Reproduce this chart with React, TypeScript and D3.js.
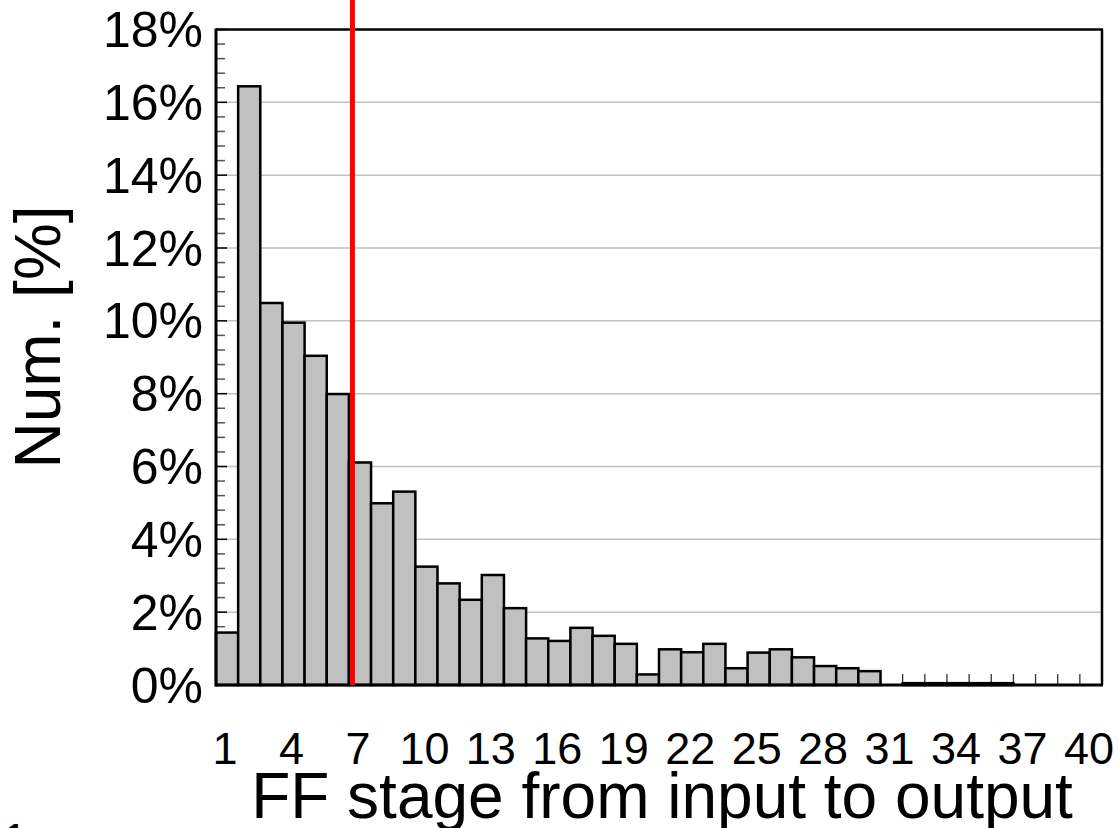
import React from "react";
import * as d3 from "d3";

const stages: number[] = [
  1, 2, 3, 4, 5, 6, 7, 8, 9, 10, 11, 12, 13, 14, 15, 16, 17, 18, 19, 20,
  21, 22, 23, 24, 25, 26, 27, 28, 29, 30, 31, 32, 33, 34, 35, 36, 37, 38, 39, 40,
];
const percents: number[] = [
  1.44, 16.44, 10.49, 9.95, 9.04, 7.99, 6.11, 4.99, 5.31, 3.25,
  2.79, 2.34, 3.02, 2.11, 1.28, 1.21, 1.57, 1.35, 1.13, 0.29,
  0.98, 0.9, 1.13, 0.46, 0.89, 0.98, 0.76, 0.52, 0.46, 0.38,
  0, 0.05, 0.05, 0.05, 0.05, 0.05, 0, 0, 0, 0,
];
const xTickLabels: number[] = [1, 4, 7, 10, 13, 16, 19, 22, 25, 28, 31, 34, 37, 40];
const yMajorTicks: number[] = [0, 2, 4, 6, 8, 10, 12, 14, 16, 18];
const yMinorTicks: number[] = [
  0.4, 0.8, 1.2, 1.6, 2.4, 2.8, 3.2, 3.6, 4.4, 4.8, 5.2, 5.6, 6.4, 6.8, 7.2, 7.6,
  8.4, 8.8, 9.2, 9.6, 10.4, 10.8, 11.2, 11.6, 12.4, 12.8, 13.2, 13.6, 14.4, 14.8,
  15.2, 15.6, 16.4, 16.8, 17.2, 17.6,
];
const redLineStage = 6.66;
const xTitle = "FF stage from input to output";
const yTitle = "Num. [%]";

const W = 1119;
const H = 828;
const L = 216;
const R = 1102;
const T = 29.5;
const B = 685;
const FONT = "'Liberation Sans', Arial, sans-serif";

export default function App() {
  const x = d3
    .scaleBand<number>()
    .domain(stages)
    .range([L, R])
    .padding(0);
  const xc = d3.scaleLinear().domain([0.5, 40.5]).range([L, R]);
  const y = d3.scaleLinear().domain([0, 18]).range([B, T]);
  const bw = x.bandwidth();

  return (
    <div style={{ position: "absolute", left: 0, top: 0 }}>
      <svg width={W} height={H} style={{ display: "block", background: "#fff" }}>
        {/* gridlines */}
        {yMajorTicks
          .filter((v) => v > 0 && v < 18)
          .map((v) => (
            <line key={"g" + v} x1={L} x2={R} y1={y(v)} y2={y(v)} stroke="#c0c0c0" strokeWidth={1.5} />
          ))}
        {/* x ticks at bar boundaries (inward) */}
        {stages.map((s) => (
          <line
            key={"xt" + s}
            x1={(x(s) as number) + bw}
            x2={(x(s) as number) + bw}
            y1={B}
            y2={B - 11}
            stroke="#333"
            strokeWidth={1.3}
          />
        ))}
        {/* y minor ticks */}
        {yMinorTicks.map((v) => (
          <line key={"ym" + v} x1={L} x2={L + 9} y1={y(v)} y2={y(v)} stroke="#555" strokeWidth={1.5} />
        ))}
        {yMajorTicks.map((v) => (
          <line key={"yM" + v} x1={L} x2={L + 11} y1={y(v)} y2={y(v)} stroke="#000" strokeWidth={1.5} />
        ))}
        {/* bars */}
        {stages.map((s, i) =>
          percents[i] > 0 ? (
            <rect
              key={"b" + s}
              x={x(s) as number}
              y={y(percents[i])}
              width={bw}
              height={B - y(percents[i])}
              fill="#c0c0c0"
              stroke="#000"
              strokeWidth={2.5}
            />
          ) : null
        )}
        {/* frame */}
        <line x1={L} x2={R + 1} y1={T} y2={T} stroke="#000" strokeWidth={2.5} />
        <line x1={R} x2={R} y1={T} y2={B} stroke="#000" strokeWidth={2.5} />
        <line x1={L} x2={L} y1={T - 1} y2={B + 1.5} stroke="#000" strokeWidth={3} />
        <line x1={L} x2={R + 1} y1={B} y2={B} stroke="#000" strokeWidth={3} />
        {/* red line */}
        <line x1={xc(redLineStage)} x2={xc(redLineStage)} y1={0} y2={B} stroke="#ff0000" strokeWidth={5} />
        {/* y tick labels */}
        {yMajorTicks.map((v) => (
          <text
            key={"yl" + v}
            x={203}
            y={y(v) + 17.5}
            textAnchor="end"
            fontFamily={FONT}
            fontSize={50}
            fill="#000"
          >
            {v + "%"}
          </text>
        ))}
        {/* x tick labels */}
        {xTickLabels.map((s) => (
          <text
            key={"xl" + s}
            x={(x(s) as number) + bw / 2 - 2}
            y={764}
            textAnchor="middle"
            fontFamily={FONT}
            fontSize={45}
            fill="#000"
          >
            {s}
          </text>
        ))}
        {/* axis titles */}
        <text x={662} y={818} textAnchor="middle" fontFamily={FONT} fontSize={64} fill="#000">
          {xTitle}
        </text>
        <text
          transform="translate(60,337) rotate(-90)"
          textAnchor="middle"
          fontFamily={FONT}
          fontSize={64}
          fill="#000"
        >
          {yTitle}
        </text>
        <text x={-20} y={856} fontFamily={FONT} fontSize={46} fill="#000">
          11
        </text>
      </svg>
    </div>
  );
}
